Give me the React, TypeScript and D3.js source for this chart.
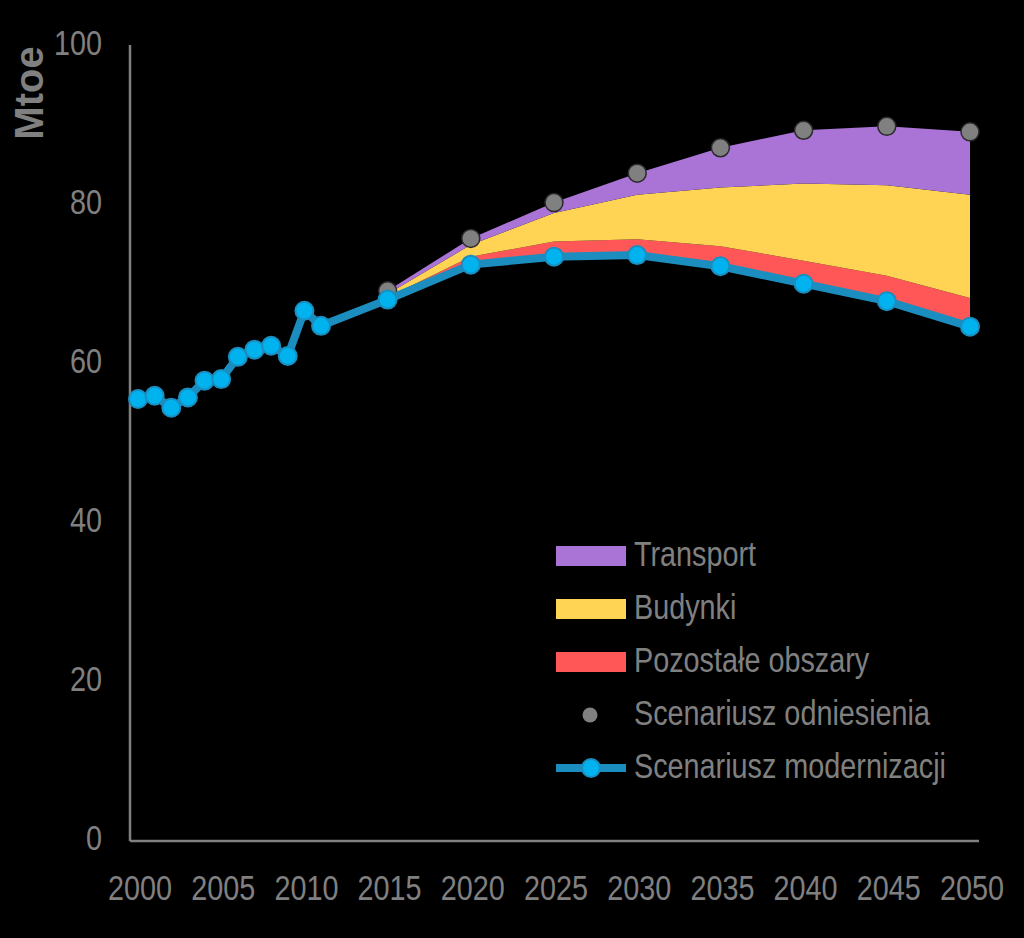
import * as d3 from 'd3';
import { useMemo } from 'react';

// historical + modernisation scenario (Mtoe)
const modYears = [2000, 2001, 2002, 2003, 2004, 2005, 2006, 2007, 2008, 2009, 2010, 2011, 2015, 2020, 2025, 2030, 2035, 2040, 2045, 2050];
const modValues = [55.6, 56.0, 54.5, 55.8, 57.9, 58.1, 60.9, 61.8, 62.3, 61.0, 66.7, 64.8, 68.1, 72.5, 73.5, 73.7, 72.3, 70.1, 67.9, 64.7];

// projection years
const projYears = [2015, 2020, 2025, 2030, 2035, 2040, 2045, 2050];
const refValues = [69.2, 75.8, 80.3, 84.0, 87.2, 89.4, 89.9, 89.2];
const pozostale = [0.3, 1.0, 1.9, 2.0, 2.5, 2.9, 3.2, 3.6];
const budynki = [0.4, 1.5, 3.6, 5.6, 7.4, 9.7, 11.4, 13.0];
const transport = [0.4, 0.8, 1.3, 2.7, 5.0, 6.7, 7.4, 7.9];

const xTicks = [2000, 2005, 2010, 2015, 2020, 2025, 2030, 2035, 2040, 2045, 2050];
const yTicks = [0, 20, 40, 60, 80, 100];

const W = 1024;
const H = 938;
const GRAY = '#808080';
const FONT = '"Liberation Sans", Arial, sans-serif';
const SQUEEZE = 0.8; // the original uses a condensed face

const layerColors: Record<string, string> = {
    pozostale: '#FF5757',
    budynki: '#FFD454',
    transport: '#A974D6',
};

const legendItems = [
    { label: 'Transport', kind: 'rect', color: layerColors.transport },
    { label: 'Budynki', kind: 'rect', color: layerColors.budynki },
    { label: 'Pozostałe obszary', kind: 'rect', color: layerColors.pozostale },
    { label: 'Scenariusz odniesienia', kind: 'dot', color: GRAY },
    { label: 'Scenariusz modernizacji', kind: 'line', color: '#1B8DBE' },
];

function Label({ x, y, anchor = 'start', children }: { x: number; y: number; anchor?: string; children: any }) {
    return (
        <text
            transform={`translate(${x},${y}) scale(${SQUEEZE},1)`}
            textAnchor={anchor}
            fontSize={36}
            fill={GRAY}
        >
            {children}
        </text>
    );
}

export default function App() {
    const x = d3.scaleLinear().domain([2000, 2050]).range([138, 970]);
    const y = d3.scaleLinear().domain([0, 100]).range([841, 46]);

    const layers = useMemo(() => {
        const rows = projYears.map((yr, i) => ({
            year: yr,
            base: modValues[modYears.indexOf(yr)],
            pozostale: pozostale[i],
            budynki: budynki[i],
            transport: transport[i],
        }));
        return d3.stack<any>().keys(['base', 'pozostale', 'budynki', 'transport'])(rows);
    }, []);

    const area = d3
        .area<any>()
        .x((d) => x(d.data.year))
        .y0((d) => y(d[0]))
        .y1((d) => y(d[1]));

    const line = d3
        .line<number>()
        .x((_, i) => x(modYears[i]))
        .y((d) => y(d));

    return (
        <svg
            width={W}
            height={H}
            style={{ position: 'absolute', left: 0, top: 0, background: '#000' }}
            fontFamily={FONT}
        >
            <rect width={W} height={H} fill="#000" />

            {layers.slice(1).map((layer) => (
                <path key={layer.key} d={area(layer) ?? ''} fill={layerColors[layer.key]} />
            ))}

            {/* axes */}
            <line x1={130} x2={130} y1={y(100) - 1} y2={y(0)} stroke={GRAY} strokeWidth={2.5} />
            <line x1={130} x2={979} y1={y(0)} y2={y(0)} stroke={GRAY} strokeWidth={2.5} />

            {yTicks.map((t) => (
                <Label key={t} x={102} y={y(t) + 9} anchor="end">
                    {t}
                </Label>
            ))}
            {xTicks.map((t) => (
                <Label key={t} x={x(t) + 2} y={900} anchor="middle">
                    {t}
                </Label>
            ))}
            <text
                transform="translate(43,93) rotate(-90)"
                textAnchor="middle"
                fontSize={40}
                fontWeight="bold"
                fill={GRAY}
            >
                Mtoe
            </text>

            {/* reference scenario */}
            {projYears.map((yr, i) => (
                <circle key={yr} cx={x(yr)} cy={y(refValues[i])} r={9} fill={GRAY} stroke="#2a2a2a" strokeWidth={1.5} />
            ))}

            {/* modernisation scenario */}
            <path d={line(modValues) ?? ''} fill="none" stroke="#1B8DBE" strokeWidth={8} strokeLinejoin="round" />
            {modValues.map((v, i) => (
                <circle key={i} cx={x(modYears[i])} cy={y(v)} r={9} fill="#00B2EE" stroke="#1B8DBE" strokeWidth={2} />
            ))}

            {/* legend */}
            {legendItems.map((item, i) => {
                const cy = 556 + i * 53;
                return (
                    <g key={item.label}>
                        {item.kind === 'rect' && <rect x={556} y={cy - 10} width={70} height={20} fill={item.color} />}
                        {item.kind === 'dot' && <circle cx={590} cy={cy} r={7.5} fill={item.color} />}
                        {item.kind === 'line' && (
                            <g>
                                <line x1={556} x2={626} y1={cy} y2={cy} stroke={item.color} strokeWidth={8} />
                                <circle cx={591} cy={cy} r={9} fill="#00B2EE" stroke={item.color} strokeWidth={2} />
                            </g>
                        )}
                        <Label x={634} y={cy + 10}>
                            {item.label}
                        </Label>
                    </g>
                );
            })}
        </svg>
    );
}
